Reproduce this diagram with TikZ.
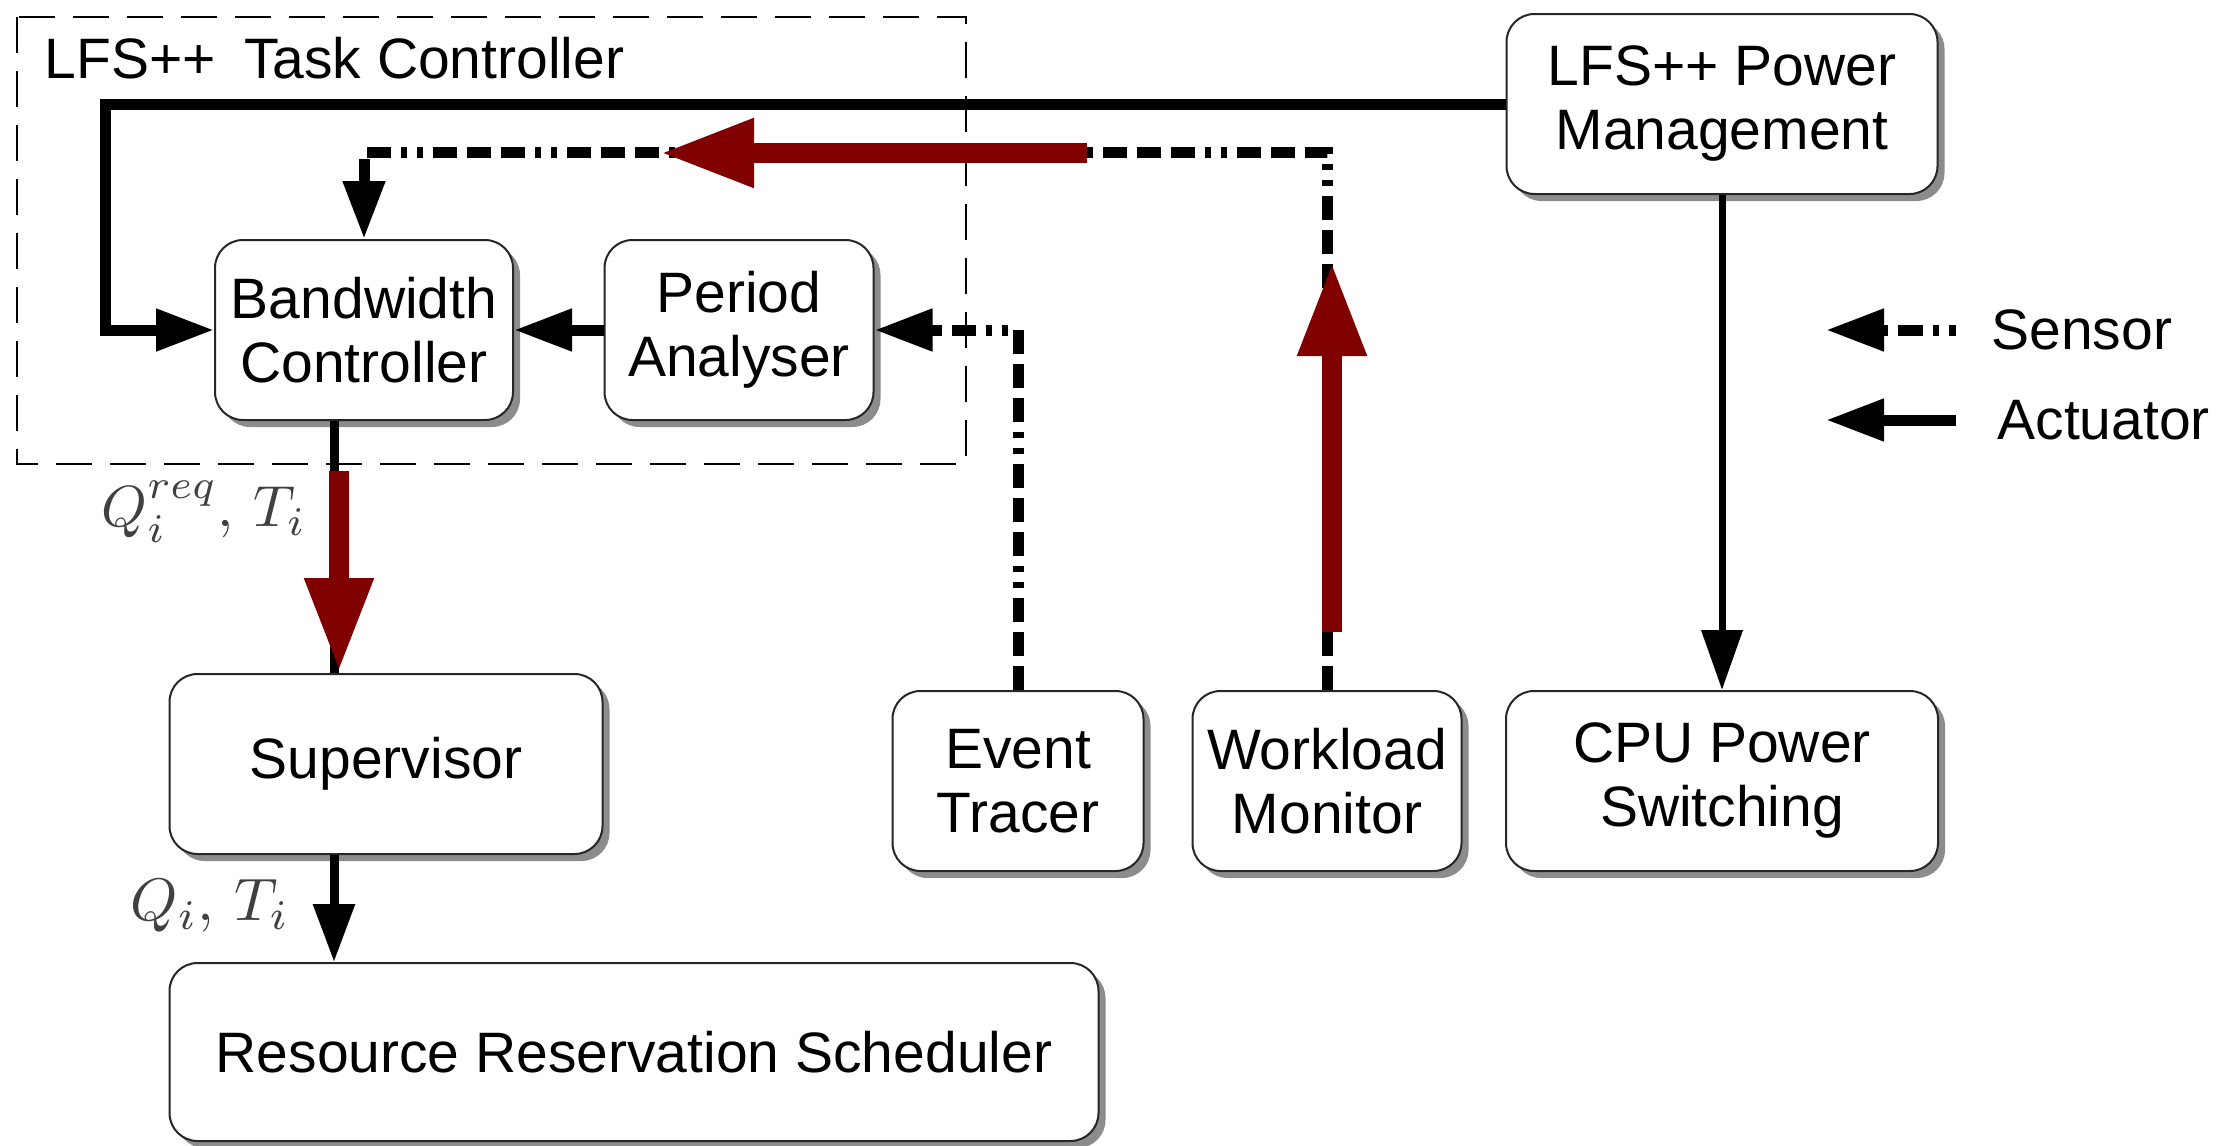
\documentclass[tikz,border=0pt]{standalone}
\usepackage[no-math]{fontspec}
\setmainfont{Liberation Sans}
\usetikzlibrary{arrows.meta,shadows,calc}
\definecolor{darkred}{RGB}{128,0,0}
\begin{document}
\begin{tikzpicture}[x=1pt,y=-1pt,
  box/.style={draw=black!85, line width=2pt, rounded corners=28pt, fill=white,
    align=center, inner sep=0pt, font=\fontsize{57}{64}\selectfont,
    drop shadow={shadow xshift=7pt, shadow yshift=-7pt, fill=black!45, opacity=1}},
  act/.style={line width=11pt, -{Triangle[length=58pt,width=40pt]}},
  sens/.style={line width=11pt,
    dash pattern=on 24pt off 10pt on 24pt off 10pt on 24pt off 10pt on 6pt off 10pt on 6pt off 10pt,
    -{Triangle[length=58pt,width=40pt]}},
  redarr/.style={draw=darkred, line width=20pt, -{Triangle[length=94pt,width=64pt]}},
  lbl/.style={font=\fontsize{57}{64}\selectfont},
  mathlbl/.style={text=black!75, inner sep=0pt}
]
\useasboundingbox (0,0) rectangle (2220,1146);

% task controller container
\draw[line width=2pt, dash pattern=on 36pt off 18pt] (17,17) rectangle (966,464);
\node[lbl, anchor=base west] (title) at (41,78) {LFS++\hspace{0.5em}Task Controller};

% nodes
\node[box, minimum width=298pt, minimum height=180pt] (BC) at (364,330) {Bandwidth\\Controller};
\node[box, minimum width=269pt, minimum height=180pt] (PA) at (739,330) {Period\\Analyser};
\node[box, minimum width=431pt, minimum height=180pt] (PM) at (1722,104) {LFS++ Power\\Management};
\node[box, minimum width=433pt, minimum height=180pt] (SUP) at (386,764) {Supervisor};
\node[box, minimum width=929pt, minimum height=178pt] (RRS) at (634,1052) {Resource Reservation Scheduler};
\node[box, minimum width=251pt, minimum height=180pt] (ET) at (1018,781) {Event\\Tracer};
\node[box, minimum width=269pt, minimum height=180pt] (WM) at (1327,781) {Workload\\Monitor};
\node[box, minimum width=432pt, minimum height=180pt] (CPS) at (1722,781) {CPU Power\\Switching};

% helper coordinates
\coordinate (c1) at (105,104);
\coordinate (c2) at (1327,152);
\coordinate (bx) at ([xshift=-30pt]BC.south);

% actuator connectors
\draw[act] (PM.west) -- (c1) |- (BC.west);
\draw[act] (PA.west) -- (BC.east);
\draw[line width=9pt] (bx) -- (bx |- SUP.north);
\draw[line width=9pt, -{Triangle[length=58pt,width=40pt]}] (SUP.south -| bx) -- (RRS.north -| bx);
\draw[line width=7pt, -{Triangle[length=60pt,width=40pt]}] (PM.south) -- (CPS.north);

% sensor connectors
\draw[sens] (ET.north) |- (PA.east);
\draw[sens] (WM.north) -- (c2) -| (BC.north);

% red arrows
\coordinate (r1a) at (1087,153); \coordinate (r1b) at (660,153);
\coordinate (r2a) at (1332,632); \coordinate (r2b) at (1332,262);
\coordinate (r3a) at (339,471);  \coordinate (r3b) at (339,672);
\draw[redarr] (r1a) -- (r1b);
\draw[redarr] (r2a) -- (r2b);
\draw[redarr] (r3a) -- (r3b);

% labels
\node[mathlbl] (lq1) at (204,512) {\scalebox{5.8}{$Q_i^{req},\,T_i$}};
\node[mathlbl] (lq2) at (210,906) {\scalebox{6.0}{$Q_i,\,T_i$}};

% legend
\coordinate (s1) at (1956,330); \coordinate (s2) at (1826,330);
\coordinate (a1) at (1956,420); \coordinate (a2) at (1826,420);
\draw[line width=11pt, dash pattern=on 7pt off 10pt on 6pt off 10pt on 25pt off 10pt on 60pt,
  -{Triangle[length=58pt,width=40pt]}] (s1) -- (s2);
\draw[act] (a1) -- (a2);
\node[lbl, anchor=west] (sensor) at (1988,330) {Sensor};
\node[lbl, anchor=west] (actuator) at (1994,420) {Actuator};
\end{tikzpicture}
\end{document}
